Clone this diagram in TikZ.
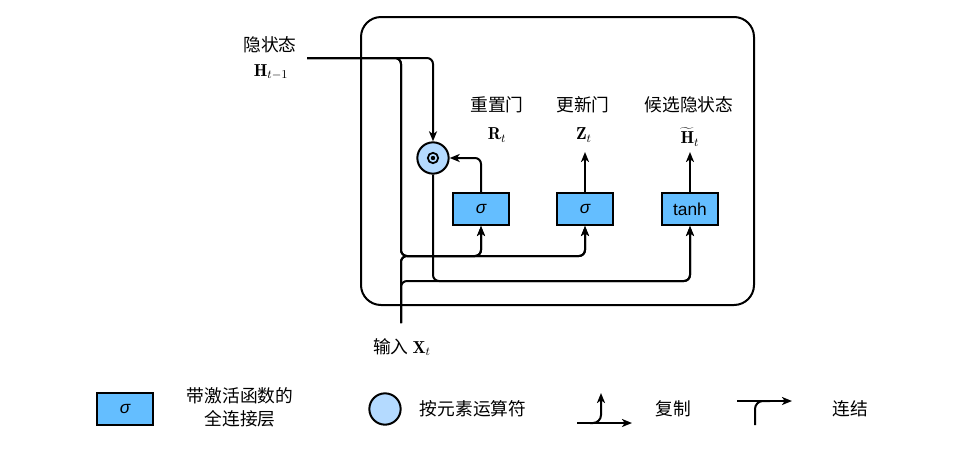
\documentclass[tikz,border=0pt]{standalone}
\usepackage{fontspec}
\setsansfont{Liberation Sans}
\newfontfamily\cjk{Noto Sans CJK SC}
\usetikzlibrary{arrows.meta}
\definecolor{boxblue}{RGB}{100,190,255}
\definecolor{circblue}{RGB}{180,218,255}
\begin{document}
\begin{tikzpicture}[x=0.75pt,y=-0.75pt,line width=1.5pt,
  arr/.style={-{Stealth[length=7.5pt,width=6pt,inset=2pt]}},
  conn/.style={arr,rounded corners=4.5pt},
  gate/.style={draw,fill=boxblue,minimum width=42pt,minimum height=24pt,inner sep=0pt,font=\sffamily\fontsize{13}{15}\selectfont},
  opc/.style={draw,circle,fill=circblue,minimum size=23.5pt,inner sep=0pt},
  zh/.style={font=\cjk\fontsize{13.3}{17}\selectfont,inner sep=0pt},
  mlab/.style={font=\fontsize{13}{15}\selectfont,inner sep=0pt}]
\useasboundingbox (0,0) rectangle (954,454);
% frame
\draw[rounded corners=15pt] (361,17) rectangle (754,305);
% nodes
\node[gate] (r) at (481,209) {\itshape σ};
\node[gate] (z) at (585,209) {\itshape σ};
\node[gate] (t) at (690,209) {tanh};
\node[opc] (o) at (433,158) {};
\draw[line width=1.3pt] (o.center) circle (5.2);
\fill (o.center) circle (2.2);
% labels
\node[zh] (lh) at (270,45) {隐状态};
\node[mlab] (lhm) at (271,72) {$\mathbf{H}_{t-1}$};
\node[zh] (lr) at (497,105) {重置门};
\node[mlab] (lrm) at (497,135) {$\mathbf{R}_t$};
\node[zh] (lz) at (583,105) {更新门};
\node[mlab] (lzm) at (584,135) {$\mathbf{Z}_t$};
\node[zh] (lt) at (689,105) {候选隐状态};
\node[mlab] (ltm) at (690,137) {$\widetilde{\mathbf{H}}_t$};
\node[zh] (lx) at (402,347) {输入 {\fontsize{13}{15}\selectfont$\mathbf{X}_t$}};
% coordinates
\coordinate (h) at (307,58);
\coordinate (x) at (401,323);
\coordinate (j1) at (401,256);
\coordinate (j2) at (401,281);
\coordinate (j3) at (690,281);
% connectors
\draw[conn] (h) -| (o.north);
\draw[conn] (h) -| (j1) -| (r.south);
\draw[conn] (h) -| (j1) -| (z.south);
\draw[conn] (x) -- (j1) -| (r.south);
\draw[conn] (x) -- (j1) -| (z.south);
\draw[conn] (x) -- (j2) -- (j3) -- (t.south);
\draw[conn] (o.south) |- (j3) -- (t.south);
\draw[conn] (r.north) |- (o.east);
\draw[arr] (z.north) -- ++(0,-40);
\draw[arr] (t.north) -- ++(0,-40);
% legend
\node[gate] (lg) at (125,409) {\itshape σ};
\node[zh,align=center] (lgt) at (240,407) {带激活函数的\\全连接层};
\node[opc] (lc) at (385,409) {};
\node[zh] (lct) at (473,409) {按元素运算符};
\coordinate (c1) at (577,423);
\coordinate (c2) at (632,423);
\coordinate (c3) at (590,423);
\coordinate (c4) at (601,393);
\draw[arr] (c1) -- (c2);
\draw[arr,rounded corners=6pt] (c3) -| (c4);
\node[zh] (lcp) at (673,409) {复制};
\coordinate (k1) at (737,401);
\coordinate (k2) at (792,401);
\coordinate (k3) at (755,425);
\coordinate (k4) at (770,401);
\draw[arr] (k1) -- (k2);
\draw[rounded corners=6pt] (k3) |- (k4);
\node[zh] (lkt) at (850,409) {连结};
\end{tikzpicture}
\end{document}
